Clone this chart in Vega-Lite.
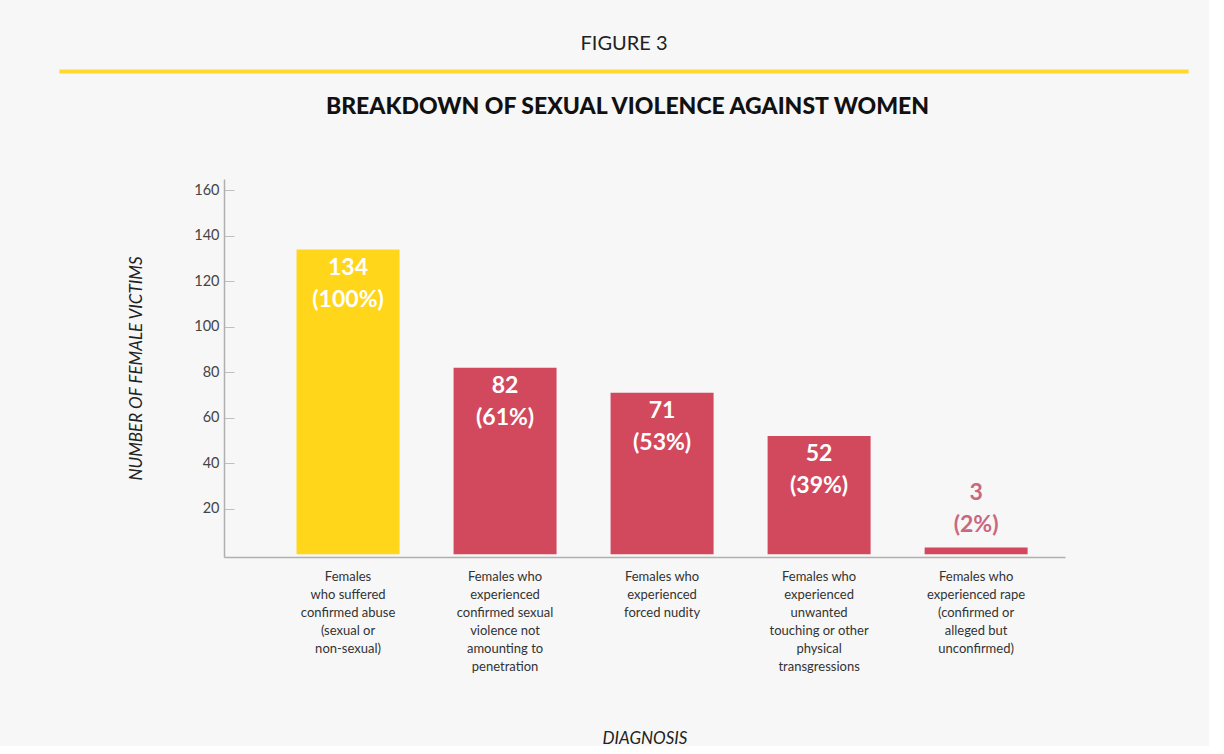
{
  "$schema": "https://vega.github.io/schema/vega-lite/v6.json",
  "background": "#f7f7f7",
  "padding": {"left": 59, "top": 32, "right": 20, "bottom": 0},
  "spacing": 22,
  "config": {
    "view": {"stroke": null},
    "font": "Lato",
    "title": {"color": "#1a1a1a", "anchor": "middle"}
  },
  "vconcat": [
    {
      "width": 1126,
      "height": 1,
      "data": {"values": []},
      "mark": "point",
      "view": {"stroke": "#FFD92F", "strokeWidth": 3.2},
      "title": {"text": "FIGURE 3", "fontSize": 20, "fontWeight": "normal", "font": "Lato", "offset": 17, "color": "#222222"}
    },
    {
      "spacing": 20,
      "hconcat": [
        {
          "width": 46,
          "height": 10,
          "data": {"values": []},
          "mark": "point"
        },
        {
          "width": 841,
          "height": 378,
          "title": {"text": "BREAKDOWN OF SEXUAL VIOLENCE AGAINST WOMEN", "fontSize": 23, "fontWeight": 900, "font": "Lato", "offset": 60, "dx": -17, "color": "#111111"},
          "data": {"values": [
            {"category": "Females|who suffered|confirmed abuse|(sexual or|non-sexual)", "count": 134, "label": "134\n(100%)", "group": "all"},
            {"category": "Females who|experienced|confirmed sexual|violence not|amounting to|penetration", "count": 82, "label": "82\n(61%)", "group": "sexual"},
            {"category": "Females who|experienced|forced nudity", "count": 71, "label": "71\n(53%)", "group": "sexual"},
            {"category": "Females who|experienced|unwanted|touching or other|physical|transgressions", "count": 52, "label": "52\n(39%)", "group": "sexual"},
            {"category": "Females who|experienced rape|(confirmed or|alleged but|unconfirmed)", "count": 3, "label": "3\n(2%)", "group": "sexual"}
          ]},
          "encoding": {
            "x": {
              "field": "category", "type": "nominal", "sort": null,
              "scale": {"paddingInner": 0.344, "paddingOuter": 0.35, "align": 0.66},
              "axis": {
                "title": "DIAGNOSIS",
                "titleFont": "Lato", "titleFontStyle": "italic", "titleFontWeight": "normal", "titleFontSize": 17, "titleColor": "#222222",
                "titlePadding": 57,
                "labelExpr": "split(datum.label, '|')",
                "labelAngle": 0, "labelFont": "Lato", "labelFontSize": 13,
                "labelColor": "#333333", "labelLineHeight": 18, "labelPadding": 13, "labelBaseline": "top",
                "ticks": false, "domainColor": "#b0b0b0", "domainWidth": 1.5
              }
            },
            "y": {
              "field": "count", "type": "quantitative",
              "scale": {"domain": [-1.2, 165], "nice": false, "zero": false},
              "axis": {
                "title": "NUMBER OF FEMALE VICTIMS",
                "titleFont": "Lato", "titleFontStyle": "italic", "titleFontWeight": "normal", "titleFontSize": 17, "titleColor": "#222222",
                "titlePadding": 48,
                "values": [20, 40, 60, 80, 100, 120, 140, 160],
                "grid": false,
                "labelFont": "Lato", "labelFontSize": 14.5, "labelColor": "#444444",
                "tickSize": -10, "tickColor": "#c0c0c0", "labelPadding": 15,
                "domainColor": "#b0b0b0", "domainWidth": 1.5
              }
            }
          },
          "layer": [
            {
              "mark": {"type": "bar"},
              "encoding": {
                "color": {"field": "group", "type": "nominal", "legend": null,
                  "scale": {"domain": ["all", "sexual"], "range": ["#FFD61A", "#D2495E"]}}
              }
            },
            {
              "transform": [{"filter": "datum.count >= 10"}],
              "mark": {"type": "text", "baseline": "top", "dy": 7, "lineBreak": "\n", "lineHeight": 32, "fontSize": 23, "fontWeight": "bold", "font": "Lato", "color": "#ffffff"},
              "encoding": {"text": {"field": "label"}}
            },
            {
              "transform": [{"filter": "datum.count < 10"}],
              "mark": {"type": "text", "baseline": "top", "dy": -65, "lineBreak": "\n", "lineHeight": 32, "fontSize": 23, "fontWeight": "bold", "font": "Lato", "color": "#C96880"},
              "encoding": {"text": {"field": "label"}}
            }
          ]
        }
      ]
    }
  ]
}
